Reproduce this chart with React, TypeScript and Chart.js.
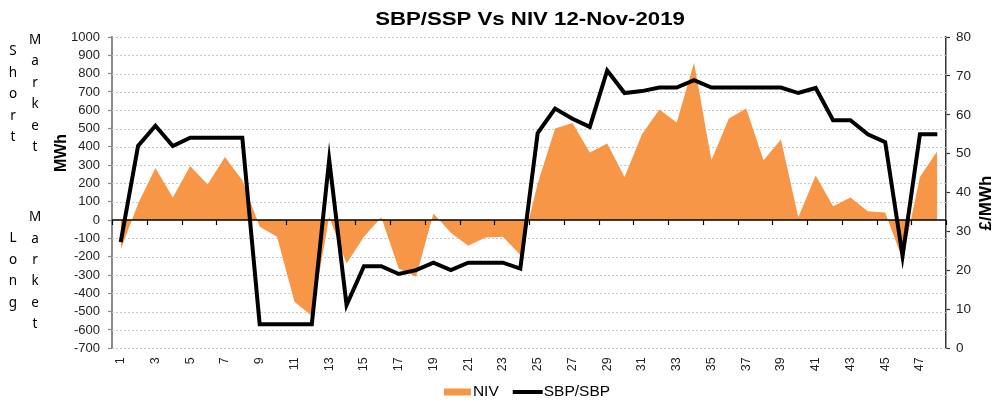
import React, { useEffect, useRef } from 'react';
import { Chart, registerables } from 'chart.js';

Chart.register(...registerables);

const TITLE = 'SBP/SSP Vs NIV 12-Nov-2019';
const PERIODS = ['1','2','3','4','5','6','7','8','9','10','11','12','13','14','15','16','17','18','19','20','21','22','23','24','25','26','27','28','29','30','31','32','33','34','35','36','37','38','39','40','41','42','43','44','45','46','47','48'];
const NIV = [-160, 90, 285, 124, 296, 195, 345, 218, -36, -91, -446, -524, 18, -237, -91, 15, -264, -309, 36, -69, -140, -95, -91, -191, 200, 500, 531, 369, 418, 236, 469, 604, 533, 860, 327, 555, 609, 327, 440, 15, 243, 76, 124, 49, 42, -215, 236, 378];
const PRICE = [27.3, 52, 57.2, 52, 54.1, 54.1, 54.1, 54.1, 6.2, 6.2, 6.2, 6.2, 48.5, 11.1, 21.1, 21.1, 19.1, 20.1, 22, 20.1, 22, 22, 22, 20.5, 55.3, 61.6, 59, 56.9, 71.4, 65.6, 66.1, 67, 67, 68.9, 67, 67, 67, 67, 67, 65.6, 66.9, 58.6, 58.6, 55, 53, 23.7, 55, 55];
const SERIES_NAMES = ['NIV', 'SBP/SBP'];
const LEFT_AXIS_TITLE = 'MWh';
const RIGHT_AXIS_TITLE = '£/MWh';
const SIDE_WORDS = [
  { text: 'Short', x: 13, y: 51, step: 21.5 },
  { text: 'Market', x: 35, y: 39.5, step: 21.5 },
  { text: 'Market', x: 35, y: 217, step: 21.3 },
  { text: 'Long', x: 13, y: 238, step: 21.6 },
];

const ORANGE = '#F79646';
const FONT = '"Liberation Sans", Arial, sans-serif';

const decorPlugin = {
  id: 'decor',
  beforeDatasetsDraw(chart: any) {
    const { ctx, chartArea: a, scales } = chart;
    const y = scales.y;
    ctx.save();
    ctx.strokeStyle = '#c8c8c8';
    ctx.lineWidth = 1;
    ctx.setLineDash([2, 2]);
    y.ticks.forEach((t: any) => {
      if (t.value === 0) return;
      const py = Math.round(y.getPixelForValue(t.value)) + 0.5;
      ctx.beginPath();
      ctx.moveTo(a.left, py);
      ctx.lineTo(a.right, py);
      ctx.stroke();
    });
    ctx.restore();
  },
  afterDatasetDraw(chart: any, args: any) {
    if (args.index !== 0) return;
    const { ctx, chartArea: a, scales } = chart;
    const y = scales.y;
    const x = scales.x;
    const zy = Math.round(y.getPixelForValue(0));
    ctx.save();
    ctx.strokeStyle = '#000';
    ctx.lineWidth = 1.5;
    ctx.beginPath();
    ctx.moveTo(a.left, zy);
    ctx.lineTo(a.right, zy);
    ctx.stroke();
    const n = PERIODS.length;
    const w = (x.right - x.left) / n;
    ctx.lineWidth = 1.2;
    for (let i = 0; i <= n; i += 2) {
      const px = Math.round(x.left + i * w) + 0.5;
      ctx.beginPath();
      ctx.moveTo(px, zy);
      ctx.lineTo(px, zy + 5);
      ctx.stroke();
    }
    ctx.restore();
  },
  afterDraw(chart: any) {
    const { ctx, chartArea: a } = chart;
    const cx = (a.left + a.right) / 2;
    ctx.save();
    ctx.fillStyle = '#000';
    ctx.font = 'bold 18.5px ' + FONT;
    ctx.textAlign = 'center';
    ctx.textBaseline = 'middle';
    ctx.translate(cx + 1, 20);
    ctx.scale(1.2, 1);
    ctx.fillText(TITLE, 0, 0);
    ctx.restore();

    ctx.save();
    ctx.fillStyle = '#000';
    ctx.font = 'bold 16px ' + FONT;
    ctx.textAlign = 'center';
    ctx.textBaseline = 'middle';
    ctx.translate(62, 153);
    ctx.rotate(-Math.PI / 2);
    ctx.fillText(LEFT_AXIS_TITLE, 0, 0);
    ctx.restore();

    ctx.save();
    ctx.fillStyle = '#000';
    ctx.font = 'bold 17px ' + FONT;
    ctx.textAlign = 'center';
    ctx.textBaseline = 'middle';
    ctx.translate(986, 203);
    ctx.rotate(-Math.PI / 2);
    ctx.fillText(RIGHT_AXIS_TITLE, 0, 0);
    ctx.restore();

    ctx.save();
    ctx.font = '15.5px ' + FONT;
    ctx.textBaseline = 'middle';
    ctx.textAlign = 'left';
    const t1 = ctx.measureText(SERIES_NAMES[0]).width;
    const t2 = ctx.measureText(SERIES_NAMES[1]).width;
    const boxW = 27, gap1 = 2, gapMid = 14, lineW = 30, gap2 = 1;
    const total = boxW + gap1 + t1 + gapMid + lineW + gap2 + t2;
    let lx = cx - 2 - total / 2;
    const ly = chart.height - 9;
    ctx.fillStyle = ORANGE;
    ctx.fillRect(lx, ly - 3.5, boxW, 7);
    lx += boxW + gap1;
    ctx.fillStyle = '#000';
    ctx.fillText(SERIES_NAMES[0], lx, ly);
    lx += t1 + gapMid;
    ctx.strokeStyle = '#000';
    ctx.lineWidth = 4;
    ctx.beginPath();
    ctx.moveTo(lx, ly);
    ctx.lineTo(lx + lineW, ly);
    ctx.stroke();
    lx += lineW + gap2;
    ctx.fillText(SERIES_NAMES[1], lx, ly);
    ctx.restore();
  },
};

export default function App() {
  const ref = useRef<HTMLCanvasElement | null>(null);
  useEffect(() => {
    if (!ref.current) return;
    const chart = new Chart(ref.current, {
      type: 'line',
      data: {
        labels: PERIODS,
        datasets: [
          {
            label: SERIES_NAMES[0],
            data: NIV,
            yAxisID: 'y',
            fill: 'origin',
            backgroundColor: ORANGE,
            borderWidth: 0,
            borderColor: ORANGE,
            pointRadius: 0,
            tension: 0,
            order: 2,
          },
          {
            label: SERIES_NAMES[1],
            data: PRICE,
            yAxisID: 'y1',
            fill: false,
            borderColor: '#000',
            borderWidth: 4,
            pointRadius: 0,
            tension: 0,
            order: 1,
          },
        ],
      },
      options: {
        animation: false,
        responsive: true,
        maintainAspectRatio: false,
        layout: { padding: { top: 37, bottom: 0, left: 0, right: 0 } },
        plugins: { legend: { display: false }, title: { display: false }, tooltip: { enabled: false } },
        scales: {
          x: {
            type: 'category',
            offset: true,
            grid: { display: false, drawTicks: false },
            border: { display: false },
            ticks: {
              autoSkip: false,
              maxRotation: 90,
              minRotation: 90,
              padding: 9,
              color: '#222',
              font: { family: FONT, size: 12.5 },
              callback: (_v: any, i: number) => (i % 2 === 0 ? PERIODS[i] : ''),
            },
            afterFit: (s: any) => { s.height = 52.7; },
          },
          y: {
            position: 'left',
            min: -700,
            max: 1000,
            grid: { drawOnChartArea: false, drawTicks: true, tickLength: 4, tickColor: '#888', tickWidth: 1.2 },
            border: { display: true, color: '#8a8a8a', width: 2 },
            ticks: { stepSize: 100, autoSkip: false, padding: 8, color: '#222', font: { family: FONT, size: 13 }, callback: (v: any) => String(v) },
            afterFit: (s: any) => { s.width = 112; },
          },
          y1: {
            position: 'right',
            min: 0,
            max: 80,
            grid: { drawOnChartArea: false, drawTicks: true, tickLength: 4, tickColor: '#333', tickWidth: 1.2 },
            border: { display: true, color: '#333', width: 1.5 },
            ticks: { stepSize: 10, autoSkip: false, padding: 6, color: '#222', font: { family: FONT, size: 13.5 }, callback: (v: any) => String(v) },
            afterFit: (s: any) => { s.width = 47; },
          },
        },
      },
      plugins: [decorPlugin],
    } as any);
    return () => chart.destroy();
  }, []);

  return (
    <div style={{ position: 'fixed', left: 0, top: 0, width: 993, height: 401, background: '#fff' }}>
      <canvas ref={ref} />
      {SIDE_WORDS.map((w, wi) => (
        <div
          key={wi}
          style={{
            position: 'absolute',
            left: w.x - 10,
            top: w.y - w.step / 2,
            width: 20,
            fontFamily: '"Noto Sans", "Open Sans", sans-serif',
            fontSize: 13.5,
            color: '#000',
            textAlign: 'center',
          }}
        >
          {w.text.split('').map((ch, ci) => (
            <div key={ci} style={{ height: w.step, lineHeight: w.step + 'px' }}>{ch}</div>
          ))}
        </div>
      ))}
    </div>
  );
}
